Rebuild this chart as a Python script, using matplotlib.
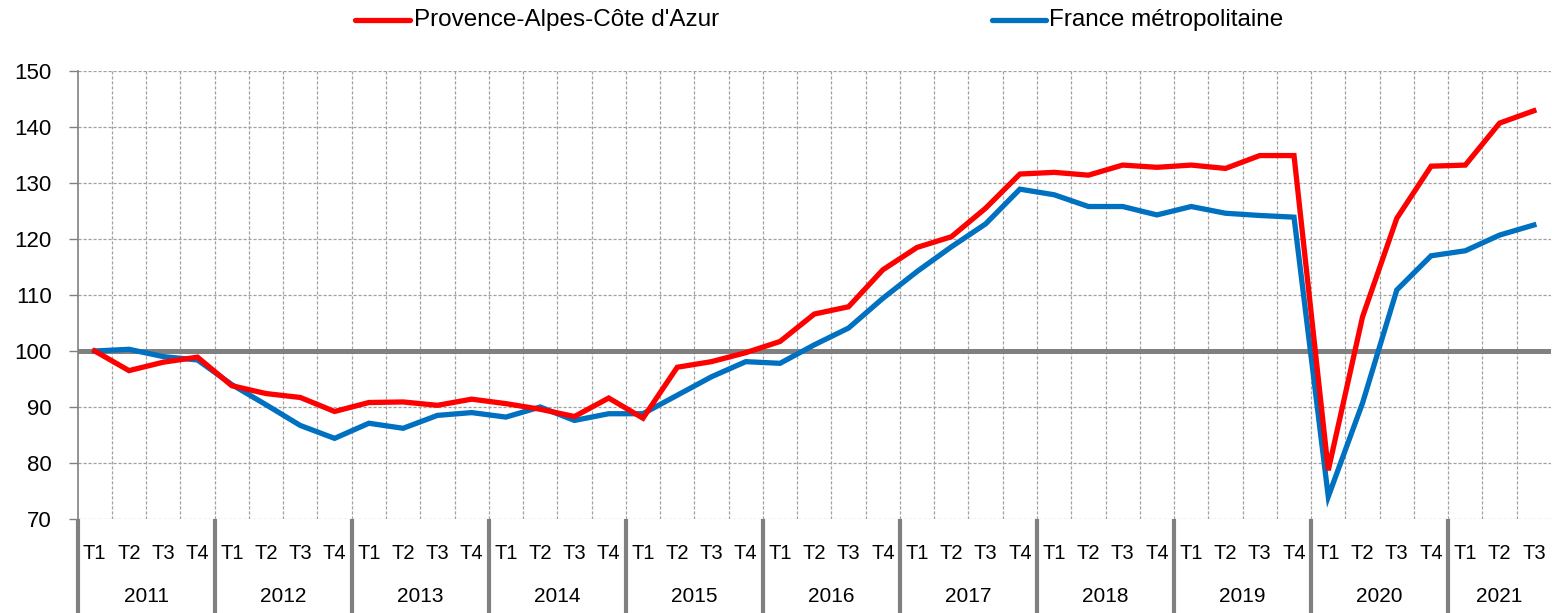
import matplotlib
matplotlib.use("Agg")
import matplotlib.pyplot as plt
from matplotlib.lines import Line2D
import matplotlib.transforms as mtransforms

plt.rcParams['font.family'] = ['Liberation Sans', 'DejaVu Sans']

years = ["2011", "2012", "2013", "2014", "2015", "2016", "2017", "2018", "2019", "2020", "2021"]
quarters = ["T1", "T2", "T3", "T4"]
n_quarters_last = 3
tick_labels = [q for y in years[:-1] for q in quarters] + quarters[:n_quarters_last]

paca = [100.0, 96.5, 98.0, 98.9,
        93.8, 92.4, 91.7, 89.2,
        90.8, 90.9, 90.3, 91.4,
        90.6, 89.6, 88.3, 91.6,
        88.0, 97.1, 98.1, 99.7,
        101.7, 106.6, 107.9, 114.5,
        118.5, 120.4, 125.5, 131.6,
        131.9, 131.4, 133.2, 132.8,
        133.2, 132.6, 134.9, 134.9,
        78.7, 106.1, 123.7, 133.0,
        133.2, 140.7, 142.9]
france = [100.0, 100.3, 99.0, 98.4,
          94.0, 90.4, 86.7, 84.4,
          87.1, 86.2, 88.5, 89.0,
          88.2, 90.0, 87.6, 88.8,
          88.8, 92.1, 95.4, 98.1,
          97.8, 101.1, 104.1, 109.4,
          114.2, 118.6, 122.7, 128.9,
          127.9, 125.8, 125.8, 124.3,
          125.8, 124.6, 124.2, 123.9,
          74.0, 90.7, 110.9, 117.0,
          117.9, 120.7, 122.5]
series_names = ["Provence-Alpes-Côte d'Azur", "France métropolitaine"]
series_colors = ["#FF0000", "#0070C0"]

W, H = 1552, 613
fig = plt.figure(figsize=(W / 100, H / 100), dpi=100)
ax = fig.add_axes([77.6 / W, 1 - 519 / H, (1551 - 77.6) / W, (519 - 71) / H])

n = len(tick_labels)
xs = [i + 0.5 for i in range(n)]
grid_col = "#A0A0A0"

# gridlines
for yv in range(70, 151, 10):
    ax.axhline(yv, color=grid_col, lw=0.9, ls=(0, (2.5, 1.5)), zorder=1)
for i in range(1, n):
    ax.axvline(i, color=grid_col, lw=0.9, ls=(0, (2.5, 1.5)), zorder=1)
ax.axhline(100, color="#808080", lw=3.6, zorder=2)

ax.plot(xs, paca, color=series_colors[0], lw=3.8, zorder=4, solid_joinstyle='miter')
ax.plot(xs, france, color=series_colors[1], lw=3.8, zorder=3, solid_joinstyle='miter')

ax.set_xlim(0, n)
ax.set_ylim(70, 150)
ax.set_yticks(range(70, 151, 10))
ax.tick_params(axis='y', labelsize=16, length=6.5, color="#808080", pad=12, width=1)
for s in ["top", "right", "bottom"]:
    ax.spines[s].set_visible(False)
ax.spines["left"].set_color("#808080")
ax.spines["left"].set_linewidth(1.2)

ax.set_xticks(xs)
ax.set_xticklabels(tick_labels, fontsize=14.5, color="#000000")
ax.tick_params(axis='x', length=0, pad=18)

# year separators and labels
trans = mtransforms.blended_transform_factory(ax.transData, ax.transAxes)
ax_h = 519 - 71
sep_bottom = -(613 - 519) / ax_h
for k in range(len(years)):
    xk = 4 * k
    ax.plot([xk, xk], [0, sep_bottom], transform=trans, color="#808080", lw=3.0,
            clip_on=False, zorder=5, solid_capstyle='butt')
    end = min(4 * (k + 1), n)
    ax.text((xk + end) / 2, -(597 - 519) / ax_h, years[k], transform=trans,
            ha='center', va='center', fontsize=15, color="#000000")

# legend (manual)
ly = 1 - 20 / H
for (x0, x1, tx), name, col in zip([(355, 410, 414), (992, 1046, 1049)], series_names, series_colors):
    fig.add_artist(Line2D([x0 / W, x1 / W], [ly, ly], color=col, lw=3.8,
                          transform=fig.transFigure, solid_capstyle='round'))
    fig.text(tx / W, ly, name, ha='left', va='center', fontsize=17.5, color="#000000")

fig.savefig("out.png", dpi=100)
